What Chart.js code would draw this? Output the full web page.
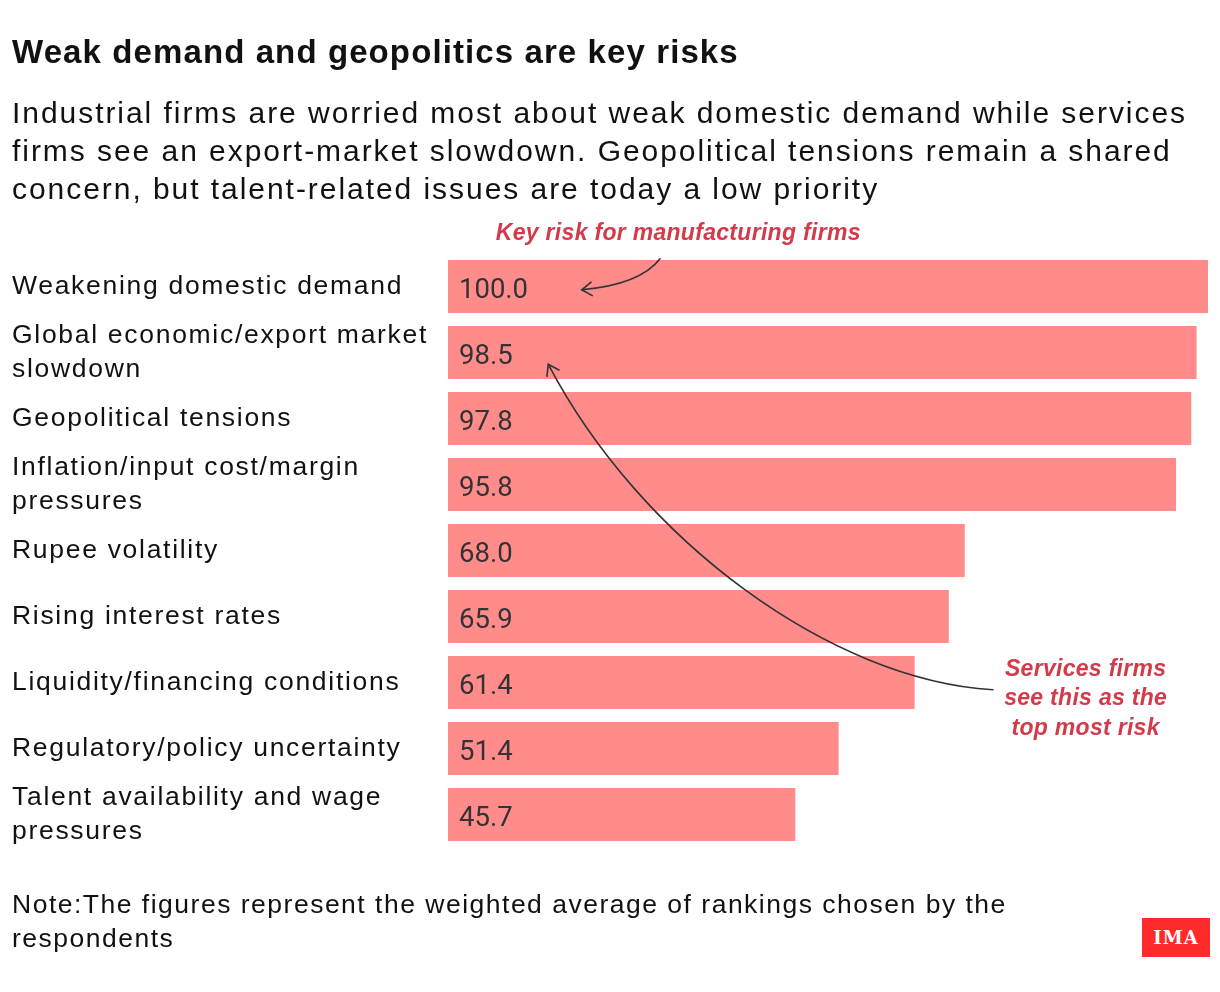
<!DOCTYPE html>
<html lang="en">
<head>
    <meta charset="UTF-8">
    <title>Weak demand and geopolitics are key risks</title>
    <script src="https://cdn.jsdelivr.net/npm/chart.js"></script>
    <style>
        body { margin: 0; background: #fff; width: 1220px; height: 992px; position: relative; overflow: hidden; }
        #riskChart { position: absolute; left: 0; top: 0; }
        .txt { position: absolute; left: 12px; color: #111; font-family: "Liberation Sans", Arial, sans-serif; white-space: nowrap; }
        #title { top: 33px; font-size: 33px; font-weight: bold; letter-spacing: 1.1px; }
        #subtitle { top: 93.5px; font-size: 30px; line-height: 38px; letter-spacing: 1.95px; }
        #note { top: 886.5px; font-size: 26.5px; line-height: 34px; letter-spacing: 1.5px; }
        #logo { position: absolute; left: 1142px; top: 918px; width: 68px; height: 39px; background: #ff2b2b; color: #fff;
                font-family: "DejaVu Serif", "Liberation Serif", serif; font-weight: bold; font-size: 18px; letter-spacing: 1px;
                text-align: center; line-height: 39px; }
    </style>
</head>
<body>
    <canvas id="riskChart" width="1220" height="992"></canvas>
    <div class="txt" id="title">Weak demand and geopolitics are key risks</div>
    <div class="txt" id="subtitle">Industrial firms are worried most about weak domestic demand while services<br>firms see an export-market slowdown. Geopolitical tensions remain a shared<br>concern, but talent-related issues are today a low priority</div>
    <div class="txt" id="note">Note:The figures represent the weighted average of rankings chosen by the<br>respondents</div>
    <div id="logo">IMA</div>
    <script>
        // data
        const risks = [
            'Weakening domestic demand',
            ['Global economic/export market', 'slowdown'],
            'Geopolitical tensions',
            ['Inflation/input cost/margin', 'pressures'],
            'Rupee volatility',
            'Rising interest rates',
            'Liquidity/financing conditions',
            'Regulatory/policy uncertainty',
            ['Talent availability and wage', 'pressures']
        ];
        const scores = [100.0, 98.5, 97.8, 95.8, 68.0, 65.9, 61.4, 51.4, 45.7];

        const barColor = '#ff8b8b';
        const noteRed = '#d33a4a';
        const inkColor = '#333333';

        // annotations, positioned in data units (value, category index)
        const manufNote = { text: ['Key risk for manufacturing firms'], x: 30.3, y: -0.8 };
        const servNote = { text: ['Services firms', 'see this as the', 'top most risk'], x: 83.9, y: 5.8 };

        function drawArrowHead(ctx, tipX, tipY, fromX, fromY) {
            const ang = Math.atan2(tipY - fromY, tipX - fromX);
            const len = 12, spread = 0.6;
            ctx.beginPath();
            ctx.moveTo(tipX - len * Math.cos(ang - spread), tipY - len * Math.sin(ang - spread));
            ctx.lineTo(tipX, tipY);
            ctx.lineTo(tipX - len * Math.cos(ang + spread), tipY - len * Math.sin(ang + spread));
            ctx.stroke();
        }

        // wide tracking for the category labels
        const tracking = {
            id: 'tracking',
            beforeDraw(chart) { chart.ctx.letterSpacing = '1.7px'; }
        };

        const valueLabels = {
            id: 'valueLabels',
            afterDatasetsDraw(chart) {
                const ctx = chart.ctx;
                const meta = chart.getDatasetMeta(0);
                ctx.save();
                ctx.letterSpacing = '0px';
                ctx.font = '27.5px Roboto, "Liberation Sans", sans-serif';
                ctx.fillStyle = inkColor;
                ctx.textAlign = 'left';
                ctx.textBaseline = 'middle';
                meta.data.forEach((bar, i) => {
                    ctx.fillText(scores[i].toFixed(1), bar.base + 11, bar.y + 5);
                });
                ctx.restore();
            }
        };

        const annotations = {
            id: 'annotations',
            afterDraw(chart) {
                const ctx = chart.ctx;
                const xs = chart.scales.x, ys = chart.scales.y;
                const px = v => xs.getPixelForValue(v);
                const py = v => ys.getPixelForValue(v);
                ctx.save();
                ctx.strokeStyle = inkColor;
                ctx.lineWidth = 1.6;
                ctx.lineCap = 'round';

                // manufacturing arrow
                const a0 = [px(27.9), py(-0.42)], ac = [px(25.3), py(-0.03)], a1 = [px(17.6), py(0.05)];
                ctx.beginPath();
                ctx.moveTo(a0[0], a0[1]);
                ctx.quadraticCurveTo(ac[0], ac[1], a1[0], a1[1]);
                ctx.stroke();
                drawArrowHead(ctx, a1[0], a1[1], ac[0], ac[1]);

                // services arrow
                const b0 = [px(71.7), py(6.11)], b1 = [px(50.3), py(5.96)], b2 = [px(25.3), py(3.84)], b3 = [px(13.2), py(1.18)];
                ctx.beginPath();
                ctx.moveTo(b0[0], b0[1]);
                ctx.bezierCurveTo(b1[0], b1[1], b2[0], b2[1], b3[0], b3[1]);
                ctx.stroke();
                drawArrowHead(ctx, b3[0], b3[1], b2[0], b2[1]);

                ctx.fillStyle = noteRed;
                ctx.letterSpacing = '0.3px';
                ctx.font = 'italic bold 23px "Liberation Sans", Arial, sans-serif';
                ctx.textAlign = 'center';
                ctx.textBaseline = 'middle';
                manufNote.text.forEach((t, i) => ctx.fillText(t, px(manufNote.x), py(manufNote.y) + i * 29));
                servNote.text.forEach((t, i) => ctx.fillText(t, px(servNote.x), py(servNote.y) + i * 29.5));
                ctx.restore();
            }
        };

        const ctx = document.getElementById('riskChart').getContext('2d');
        new Chart(ctx, {
            type: 'bar',
            data: {
                labels: risks,
                datasets: [{
                    data: scores,
                    backgroundColor: barColor,
                    borderWidth: 0,
                    categoryPercentage: 1,
                    barPercentage: 0.8
                }]
            },
            options: {
                indexAxis: 'y',
                responsive: false,
                animation: false,
                devicePixelRatio: 1,
                layout: { padding: { left: 12, right: 12, top: 253.5, bottom: 144.5 } },
                plugins: {
                    legend: { display: false },
                    tooltip: { enabled: false }
                },
                scales: {
                    x: { display: false, min: 0, max: 100 },
                    y: {
                        grid: { display: false },
                        border: { display: false },
                        ticks: {
                            autoSkip: false,
                            crossAlign: 'far',
                            color: '#111',
                            font: { family: '"Liberation Sans", Arial, sans-serif', size: 26.5, lineHeight: 1.28 }
                        },
                        afterFit(scale) { scale.width = 436; }
                    }
                }
            },
            plugins: [tracking, valueLabels, annotations]
        });
    </script>
</body>
</html>
